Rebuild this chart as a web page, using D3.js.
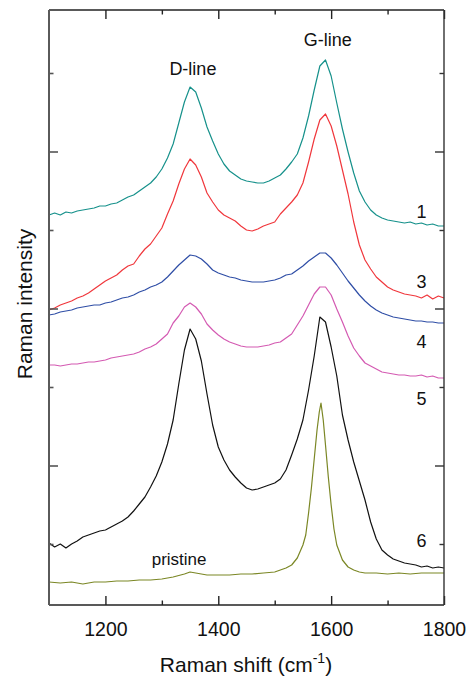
<!DOCTYPE html>
<html>
<head>
<meta charset="utf-8">
<script src="https://cdn.jsdelivr.net/npm/d3@7"></script>
<style>
  body { margin: 0; background: #fff; }
  text { font-family: "Liberation Sans", Arial, sans-serif; fill: #111; }
</style>
</head>
<body>
<div id="chart"></div>
<script>
// Raman shift grid (cm-1) shared by the treated samples
const shift = [1100,1110,1120,1130,1140,1150,1160,1170,1180,1190,
  1200,1210,1220,1230,1240,1250,1260,1270,1280,1290,
  1300,1310,1320,1330,1340,1350,1360,1370,1380,1390,
  1400,1410,1420,1430,1440,1450,1460,1470,1480,1490,
  1500,1510,1520,1530,1540,1550,1560,1570,1580,1590,
  1600,1610,1620,1630,1640,1650,1660,1670,1680,1690,
  1700,1710,1720,1730,1740,1750,1760,1770,1780,1790,1800];

// intensities (a.u., offset per curve as in the figure)
const sample1 = [390,392,390,393,392,394,395,396,397,399,
  399,401,402,405,408,410,414,418,422,428,
  436,447,461,482,503,518,513,497,478,464,
  451,441,434,430,426,424,423,422,422,424,
  427,430,436,443,451,467,489,515,539,545,
  529,502,476,453,432,414,403,395,390,387,
  385,384,383,382,383,381,382,380,381,379,379];
const sample3 = [295,297,300,302,304,307,309,312,316,320,
  324,327,330,335,339,341,349,356,361,369,
  377,391,404,421,436,446,440,428,412,403,
  395,390,387,384,379,375,374,376,379,381,
  383,391,397,403,410,422,443,466,485,491,
  479,459,435,411,383,360,345,336,328,323,
  318,315,313,311,310,309,307,310,306,309,307];
const sample4 = [290,291,293,294,295,297,298,299,300,300,
  302,303,305,307,308,310,313,315,318,320,
  323,328,334,340,345,350,349,346,341,335,
  332,330,328,327,325,324,323,323,323,324,
  325,327,330,331,335,339,344,348,352,352,
  347,340,332,324,317,310,304,299,295,292,
  290,288,287,286,285,284,284,283,283,282,282];
const sample5 = [240,240,239,240,241,241,242,243,243,244,
  245,247,248,249,250,251,253,256,258,261,
  266,271,282,289,298,302,298,291,281,275,
  270,266,263,261,259,258,258,258,259,260,
  262,263,267,271,280,289,300,311,318,318,
  310,296,283,269,257,249,242,239,236,233,
  232,231,230,230,229,229,230,228,229,227,227];
const sample6 = [62,58,61,57,61,64,68,70,72,74,
  75,78,81,84,88,94,101,108,118,129,
  143,161,185,221,255,276,266,244,211,180,
  158,145,135,128,122,117,115,116,118,120,
  122,126,135,150,166,185,215,249,288,283,
  258,229,190,165,143,124,105,83,66,55,
  50,46,44,42,41,40,38,39,37,38,37];

// pristine sample, finer sampling around the sharp G band
const pristineShift = [1100,1120,1140,1160,1180,1200,1220,1240,1260,1280,
  1300,1320,1340,1350,1360,1380,1400,1420,1440,1460,
  1480,1500,1520,1530,1540,1550,1555,1560,1565,1570,
  1575,1579,1582,1586,1590,1595,1600,1605,1610,1620,
  1630,1640,1650,1660,1680,1700,1720,1740,1760,1780,1800];
const pristine = [23,22,23,21,23,23,24,24,25,25,
  26,28,31,33,32,30,30,30,31,31,
  32,33,37,40,47,60,70,92,117,146,
  175,193,202,185,160,128,100,76,60,45,
  38,35,33,32,32,31,32,31,32,32,32];

const xTicks = [1200, 1400, 1600, 1800];
const xMinorTicks = [1300, 1500, 1700];
const yTicks = [139.5, 296.5, 453.5];
const yMinorTicks = [61, 218, 375, 532];

const width = 467, height = 678;
const margin = {top: 10, right: 23, bottom: 73, left: 49};

const svg = d3.select("#chart")
  .append("svg")
    .attr("width", width)
    .attr("height", height);

const x = d3.scaleLinear()
  .domain([1100, 1800])
  .range([margin.left, width - margin.right]);

const y = d3.scaleLinear()
  .domain([0, 595])
  .range([height - margin.bottom, margin.top]);

const series = [
  {name: "1", shift: shift, values: sample1, color: "#16918b", label: [1760, 387]},
  {name: "3", shift: shift, values: sample3, color: "#f0373c", label: [1760, 317]},
  {name: "4", shift: shift, values: sample4, color: "#2f4ea6", label: [1760, 257]},
  {name: "5", shift: shift, values: sample5, color: "#d45ab2", label: [1760, 200]},
  {name: "6", shift: shift, values: sample6, color: "#111111", label: [1760, 58]},
  {name: "pristine", shift: pristineShift, values: pristine, color: "#7b8725", label: null}
];

const line = d3.line()
  .x(d => x(d[0]))
  .y(d => y(d[1]));

svg.append("g")
  .selectAll("path")
  .data(series)
  .enter()
  .append("path")
    .attr("fill", "none")
    .attr("stroke", d => d.color)
    .attr("stroke-width", 1.2)
    .attr("stroke-linejoin", "round")
    .attr("d", d => line(d.shift.map((s, i) => [s, d.values[i]])));

// axes, ticks pointing inward on all four sides
const bottom = height - margin.bottom, right = width - margin.right;

function addAxis(gen, tr, color, w) {
  const g = svg.append("g").attr("transform", tr).call(gen);
  g.select(".domain").remove();
  g.selectAll(".tick line").attr("stroke", color).attr("stroke-width", w);
  return g;
}

const bx = addAxis(d3.axisBottom(x).tickValues(xTicks).tickSize(-9).tickPadding(17)
  .tickFormat(d3.format("d")), `translate(0,${bottom})`, "#222", 1.4);
bx.selectAll("text").attr("font-size", 19.5).attr("fill", "#111");
addAxis(d3.axisBottom(x).tickValues(xMinorTicks).tickSize(-4.5).tickFormat(""), `translate(0,${bottom})`, "#222", 1.4);
addAxis(d3.axisTop(x).tickValues(xTicks).tickSize(-9).tickFormat(""), `translate(0,${margin.top})`, "#222", 1.4);
addAxis(d3.axisTop(x).tickValues(xMinorTicks).tickSize(-4.5).tickFormat(""), `translate(0,${margin.top})`, "#222", 1.4);

addAxis(d3.axisLeft(y).tickValues(yTicks).tickSize(-9).tickFormat(""), `translate(${margin.left},0)`, "#555", 1.6);
addAxis(d3.axisLeft(y).tickValues(yMinorTicks).tickSize(-4.5).tickFormat(""), `translate(${margin.left},0)`, "#555", 1.6);
addAxis(d3.axisRight(y).tickValues(yTicks).tickSize(-9).tickFormat(""), `translate(${right},0)`, "#333", 1.4);
addAxis(d3.axisRight(y).tickValues(yMinorTicks).tickSize(-4.5).tickFormat(""), `translate(${right},0)`, "#333", 1.4);

// frame
svg.append("line").attr("x1", margin.left).attr("x2", right).attr("y1", margin.top).attr("y2", margin.top)
  .attr("stroke", "#222").attr("stroke-width", 1.4);
svg.append("line").attr("x1", margin.left).attr("x2", right).attr("y1", bottom).attr("y2", bottom)
  .attr("stroke", "#222").attr("stroke-width", 1.6);
svg.append("line").attr("x1", right).attr("x2", right).attr("y1", margin.top).attr("y2", bottom)
  .attr("stroke", "#333").attr("stroke-width", 1.4);
svg.append("line").attr("x1", margin.left).attr("x2", margin.left).attr("y1", margin.top).attr("y2", bottom)
  .attr("stroke", "#5a5a5a").attr("stroke-width", 2);

// curve numbers at the right
svg.append("g")
  .selectAll("text")
  .data(series.filter(d => d.label))
  .enter()
  .append("text")
    .attr("x", d => x(d.label[0]))
    .attr("y", d => y(d.label[1]))
    .attr("text-anchor", "middle")
    .attr("font-size", 18)
    .text(d => d.name);

svg.append("text").attr("x", x(1282)).attr("y", y(40)).attr("font-size", 17).text("pristine");
svg.append("text").attr("x", x(1355)).attr("y", y(530)).attr("text-anchor", "middle")
  .attr("font-size", 18).text("D-line");
svg.append("text").attr("x", x(1594)).attr("y", y(559)).attr("text-anchor", "middle")
  .attr("font-size", 18).text("G-line");

// axis titles
const xt = svg.append("text")
  .attr("x", 246).attr("y", 672)
  .attr("text-anchor", "middle")
  .attr("font-size", 21);
xt.append("tspan").text("Raman shift (cm");
xt.append("tspan").attr("font-size", 14).attr("dy", -9).text("-1");
xt.append("tspan").attr("dy", 9).text(")");

svg.append("text")
  .attr("transform", "translate(32,304) rotate(-90)")
  .attr("text-anchor", "middle")
  .attr("font-size", 21)
  .text("Raman intensity");
</script>
</body>
</html>
